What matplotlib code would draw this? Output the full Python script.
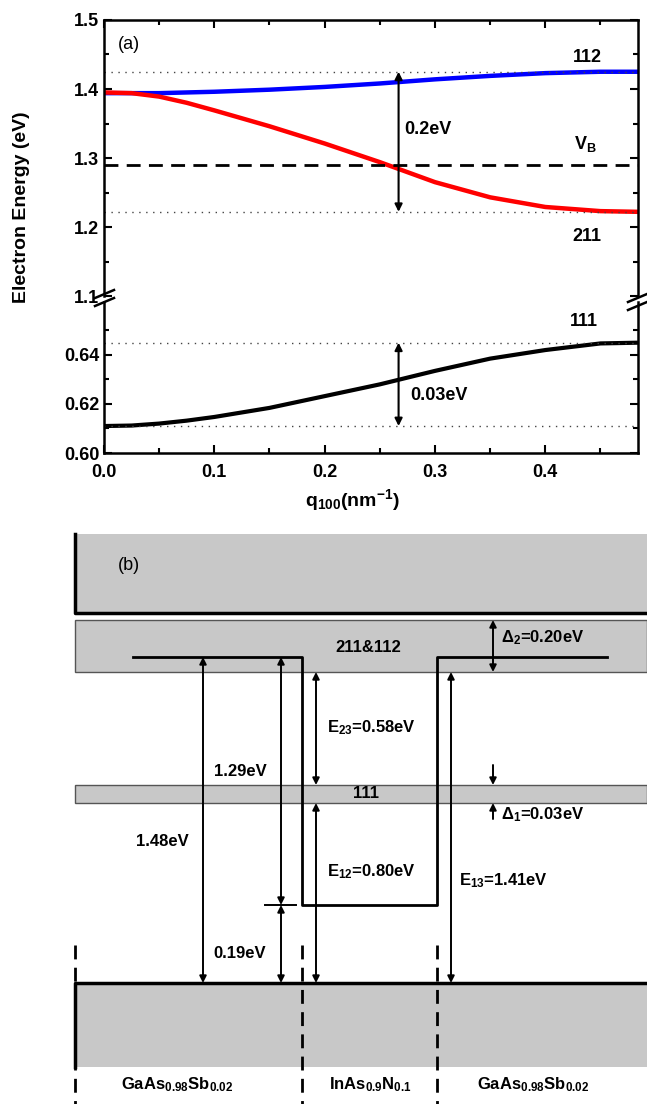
"""
Subband energies vs. q_100 (a) and band-alignment sketch (b)
"""

import matplotlib
matplotlib.use('Agg')
import matplotlib.pyplot as plt
from matplotlib.patches import Rectangle
from matplotlib.ticker import MultipleLocator, FixedLocator, FormatStrFormatter

matplotlib.rcParams['font.family'] = ['Liberation Sans', 'DejaVu Sans']
matplotlib.rcParams['font.weight'] = 'bold'
matplotlib.rcParams['mathtext.fontset'] = 'custom'
matplotlib.rcParams['mathtext.rm'] = 'Liberation Sans:bold'
matplotlib.rcParams['mathtext.it'] = 'Liberation Sans:bold'
matplotlib.rcParams['mathtext.bf'] = 'Liberation Sans:bold'

# ---- panel (a) data ----
q = [0.0, 0.025, 0.05, 0.075, 0.1, 0.15, 0.2, 0.25, 0.3, 0.35, 0.4, 0.45, 0.484]
e112 = [1.394, 1.394, 1.394, 1.395, 1.396, 1.399, 1.403, 1.408, 1.414, 1.419, 1.423, 1.425, 1.425]
e211 = [1.395, 1.394, 1.389, 1.380, 1.369, 1.346, 1.321, 1.294, 1.265, 1.243, 1.229, 1.223, 1.222]
e111 = [0.611, 0.6112, 0.612, 0.6132, 0.6147, 0.6184, 0.6232, 0.628, 0.6335, 0.6385, 0.642, 0.6447, 0.645]
v_barrier = 1.29
split_hi = [1.222, 1.425]
split_lo = [0.611, 0.645]
q_split = 0.267

# ---- panel (b) schematic (layout units, level height grows downwards) ----
x_left, x_right = 75, 647
x_well = [302, 437]                   # InAsN well edges
y_cb = [534, 613]                     # barrier conduction band block
y_band2 = [620, 672]                  # 211&112 band
y_band1 = [785, 803]                  # 111 band
y_vb = [983, 1067]                    # valence band block
y_level = 657                         # barrier edge
y_well = 905                          # well bottom
x_profile = [133, 302, 302, 437, 437, 607]
y_profile = [y_level, y_level, y_well, y_well, y_level, y_level]
materials = ['GaAs$_{0.98}$Sb$_{0.02}$', 'InAs$_{0.9}$N$_{0.1}$', 'GaAs$_{0.98}$Sb$_{0.02}$']
material_x = [177, 370, 533]

W, H = 647, 1104
GRAY = '#c8c8c8'

fig = plt.figure(figsize=(W / 100, H / 100), dpi=100)


def px_axes(l, t, r, b):
    return fig.add_axes([l / W, 1 - b / H, (r - l) / W, (b - t) / H])


ax_hi = px_axes(104, 20, 638, 296)
ax_lo = px_axes(104, 302, 638, 453)

for ax in (ax_hi, ax_lo):
    ax.set_xlim(0, 0.484)
    ax.xaxis.set_major_locator(MultipleLocator(0.1))
    ax.xaxis.set_minor_locator(MultipleLocator(0.05))
    ax.tick_params(which='both', direction='in', top=True, right=True, width=1.5, labelsize=13)
    ax.tick_params(which='major', length=6)
    ax.tick_params(which='minor', length=3.5)
    ax.tick_params(axis='x', pad=8)
    for s in ax.spines.values():
        s.set_linewidth(1.8)

ax_hi.set_ylim(1.1, 1.5)
ax_hi.yaxis.set_major_locator(MultipleLocator(0.1))
ax_hi.yaxis.set_minor_locator(MultipleLocator(0.05))
ax_hi.yaxis.set_major_formatter(FormatStrFormatter('%.1f'))
ax_hi.spines['bottom'].set_visible(False)
ax_hi.tick_params(which='both', bottom=False, labelbottom=False)

ax_lo.set_ylim(0.60, 0.6616)
ax_lo.yaxis.set_major_locator(FixedLocator([0.60, 0.62, 0.64]))
ax_lo.yaxis.set_minor_locator(FixedLocator([0.61, 0.63, 0.65]))
ax_lo.yaxis.set_major_formatter(FormatStrFormatter('%.2f'))
ax_lo.xaxis.set_major_formatter(FormatStrFormatter('%.1f'))
ax_lo.spines['top'].set_visible(False)
ax_lo.tick_params(which='both', top=False)

# curves
ax_hi.plot(q, e112, color='#0000ff', lw=3.2, solid_capstyle='butt')
ax_hi.plot(q, e211, color='#ff0000', lw=3.2, solid_capstyle='butt')
ax_hi.axhline(v_barrier, color='k', lw=2, ls=(0, (5, 3)))
for y in split_hi:
    ax_hi.axhline(y, color='#444444', lw=1, ls=(0, (1, 4)))
ax_lo.plot(q, e111, color='k', lw=3, solid_capstyle='butt')
for y in split_lo:
    ax_lo.axhline(y, color='#444444', lw=1, ls=(0, (1, 4)))

arrow = dict(arrowstyle='<|-|>', mutation_scale=11, lw=1.5, color='k', shrinkA=0, shrinkB=0)
ax_hi.annotate('', xy=(q_split, split_hi[0]), xytext=(q_split, split_hi[1]), arrowprops=arrow)
ax_lo.annotate('', xy=(q_split, split_lo[0]), xytext=(q_split, split_lo[1]), arrowprops=arrow)

ax_hi.text(0.272, 1.341, '0.2eV', fontsize=13, va='center', ha='left')
ax_lo.text(0.278, 0.6233, '0.03eV', fontsize=13, va='center', ha='left')
ax_hi.text(0.438, 1.445, '112', fontsize=13, ha='center', va='center')
ax_hi.text(0.436, 1.321, 'V$_{\\mathrm{B}}$', fontsize=13, ha='center', va='center')
ax_hi.text(0.438, 1.186, '211', fontsize=13, ha='center', va='center')
ax_lo.text(0.435, 0.6535, '111', fontsize=13, ha='center', va='center')
ax_hi.text(0.0127, 1.464, '(a)', fontsize=13, fontweight='normal', ha='left', va='center')

# overlay canvas in pixel units for break marks, labels and panel (b)
cv = fig.add_axes([0, 0, 1, 1])
cv.set_xlim(0, W)
cv.set_ylim(H, 0)
cv.axis('off')

for xs, ys in (((95, 114), (298, 290)), ((95, 114), (306, 298)),
               ((628, 647), (302, 294)), ((628, 647), (310, 302))):
    cv.plot(xs, ys, color='k', lw=1.8)

cv.text(22, 207, 'Electron Energy (eV)', rotation=90, fontsize=14, ha='center', va='center')
cv.text(305, 500, 'q$_{100}$(nm$^{-1}$)', fontsize=14, ha='left', va='center')

# panel (b) bands
for (y0, y1), thin in ((y_cb, False), (y_band2, True), (y_band1, True), (y_vb, False)):
    cv.add_patch(Rectangle((x_left, y0), x_right - x_left, y1 - y0, facecolor=GRAY,
                           edgecolor='#555555' if thin else 'none', lw=1))
cv.plot([x_left, x_left, x_right], [y_cb[0], y_cb[1], y_cb[1]], color='k', lw=2.5)
cv.plot([x_left, x_left, x_right], [y_vb[1], y_vb[0], y_vb[0]], color='k', lw=2.5)

# well profile
cv.plot(x_profile, y_profile, color='k', lw=2)

# material boundaries
for x in [x_left] + x_well:
    cv.plot([x, x], [945, H], color='k', lw=2, ls=(0, (5, 3)))

# transitions
barr = dict(arrowstyle='<|-|>', mutation_scale=10, lw=1.4, color='k', shrinkA=0, shrinkB=0)
one = dict(arrowstyle='-|>', mutation_scale=10, lw=1.4, color='k', shrinkA=0, shrinkB=0)
for x, ya, yb in ((203, y_level, y_vb[0]), (281, y_level, y_well), (281, y_well, y_vb[0]),
                  (316, y_band2[1], y_band1[0]), (316, y_band1[1], y_vb[0]),
                  (451, y_band2[1], y_vb[0]), (493, y_band2[0], y_band2[1])):
    cv.annotate('', xy=(x, yb), xytext=(x, ya), arrowprops=barr)
cv.annotate('', xy=(493, y_band1[0]), xytext=(493, y_band1[0] - 20), arrowprops=one)
cv.annotate('', xy=(493, y_band1[1]), xytext=(493, y_band1[1] + 16), arrowprops=one)
cv.plot([265, 296], [y_well, y_well], color='k', lw=1.4)

fs = 12
cv.text(118, 565, '(b)', fontsize=13, fontweight='normal', va='center')
cv.text(368, 648, '211&112', fontsize=fs, ha='center', va='center')
cv.text(366, 794, '111', fontsize=fs, ha='center', va='center')
cv.text(327, 728, 'E$_{23}$=0.58eV', fontsize=fs, va='center')
cv.text(327, 872, 'E$_{12}$=0.80eV', fontsize=fs, va='center')
cv.text(459, 881, 'E$_{13}$=1.41eV', fontsize=fs, va='center')
cv.text(214, 771, '1.29eV', fontsize=fs, va='center')
cv.text(136, 842, '1.48eV', fontsize=fs, va='center')
cv.text(213, 954, '0.19eV', fontsize=fs, va='center')
cv.text(501, 638, 'Δ$_2$=0.20eV', fontsize=fs, va='center')
cv.text(501, 815, 'Δ$_1$=0.03eV', fontsize=fs, va='center')
for name, x in zip(materials, material_x):
    cv.text(x, 1085, name, fontsize=fs, ha='center', va='center')

fig.savefig('out.png', dpi=100)
